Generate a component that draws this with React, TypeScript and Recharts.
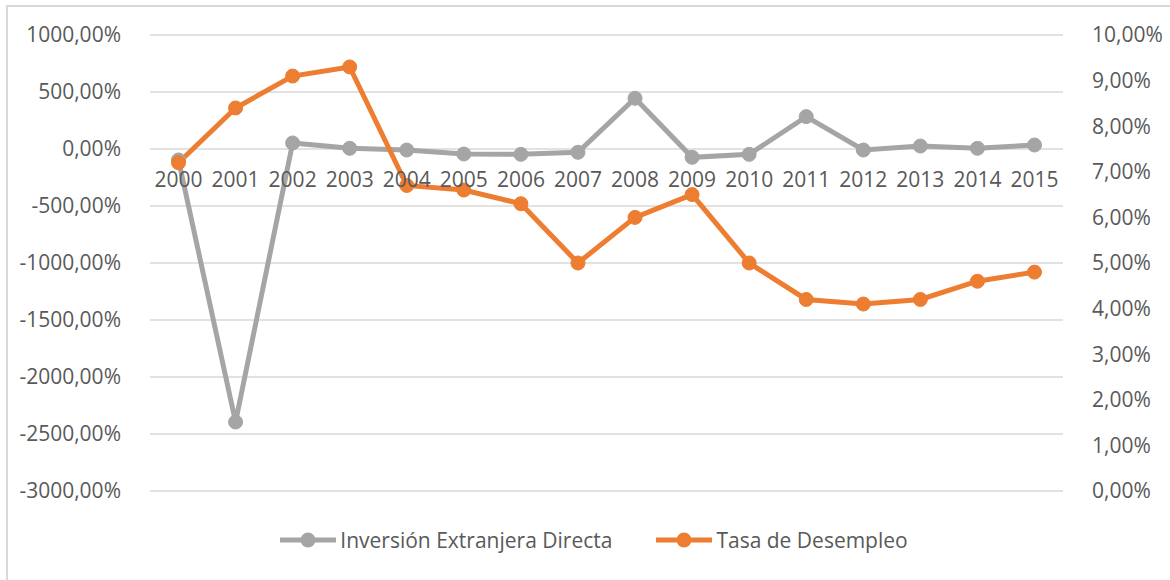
import React from "react";
import { LineChart, Line, XAxis, YAxis, CartesianGrid, Legend } from "recharts";

const years = ["2000", "2001", "2002", "2003", "2004", "2005", "2006", "2007", "2008", "2009", "2010", "2011", "2012", "2013", "2014", "2015"];
// Inversión Extranjera Directa (variación %, eje izquierdo)
const inversion = [-96, -2395, 53, 6, -9, -44, -47, -29, 445, -73, -47, 284, -9, 26, 6, 35];
// Tasa de Desempleo (%, eje derecho)
const desempleo = [7.2, 8.4, 9.1, 9.3, 6.7, 6.6, 6.3, 5.0, 6.0, 6.5, 5.0, 4.2, 4.1, 4.2, 4.6, 4.8];
const leftTicks = [-3000, -2500, -2000, -1500, -1000, -500, 0, 500, 1000];
const rightTicks = [0, 1, 2, 3, 4, 5, 6, 7, 8, 9, 10];

const GRAY = "#A5A5A5";
const ORANGE = "#ED7D31";
const TEXT = "#595959";
const FONT = "'Open Sans', sans-serif";
const FS = 21;

const data = years.map((y, i) => ({ year: y, inversion: inversion[i], desempleo: desempleo[i] }));

const pct = (v: number) => v.toFixed(2).replace(".", ",") + "%";

// etiquetas del eje X dibujadas justo debajo de la línea del 0
const YearTick = (props: any) => {
    const { x, y, payload } = props;
    return (
        <text x={x} y={y} dy={-304} textAnchor="middle" fill={TEXT} fontSize={FS} fontFamily={FONT}>
            {payload.value}
        </text>
    );
};

const legendItems = [
    { name: "Inversión Extranjera Directa", color: GRAY },
    { name: "Tasa de Desempleo", color: ORANGE },
];

const renderLegend = () => (
    <div style={{ display: "flex", justifyContent: "center", gap: 44, fontFamily: FONT, fontSize: FS, color: TEXT, paddingLeft: 18, lineHeight: "30px" }}>
        {legendItems.map((it) => (
            <div key={it.name} style={{ display: "flex", alignItems: "center" }}>
                <svg width={56} height={18}>
                    <line x1={0} x2={56} y1={9} y2={9} stroke={it.color} strokeWidth={5} />
                    <circle cx={28} cy={9} r={7.5} fill={it.color} />
                </svg>
                <span style={{ marginLeft: 4 }}>{it.name}</span>
            </div>
        ))}
    </div>
);

export default function App() {
    return (
        <div style={{ position: "absolute", left: 0, top: 0, width: 1170, height: 580, overflow: "hidden", background: "#fff" }}>
            <div style={{ position: "absolute", left: 6, top: 5, width: 1200, height: 620, border: "2px solid #D9D9D9" }} />
            <LineChart width={1170} height={580} data={data} margin={{ top: 35, right: 0, left: 0, bottom: 58 }}>
                <CartesianGrid yAxisId="left" vertical={false} stroke="#D9D9D9" strokeWidth={1.5} />
                <XAxis
                    dataKey="year"
                    height={1}
                    padding={{ left: 28.5, right: 28.5 }}
                    axisLine={false}
                    tickLine={false}
                    tickSize={0}
                    tickMargin={0}
                    tick={(p: any) => <YearTick {...p} />}
                    interval={0}
                />
                <YAxis
                    yAxisId="left"
                    width={150}
                    domain={[-3000, 1000]}
                    ticks={leftTicks}
                    tickFormatter={pct}
                    axisLine={false}
                    tickLine={false}
                    tickMargin={23}
                    tick={{ fill: TEXT, fontSize: FS, fontFamily: FONT }}
                />
                <YAxis
                    yAxisId="right"
                    orientation="right"
                    width={107}
                    domain={[0, 10]}
                    ticks={rightTicks}
                    tickFormatter={pct}
                    axisLine={false}
                    tickLine={false}
                    tickMargin={23}
                    tick={{ fill: TEXT, fontSize: FS, fontFamily: FONT, textAnchor: "start" }}
                />
                <Legend content={renderLegend} verticalAlign="bottom" wrapperStyle={{ left: 0, width: 1170, top: 525, height: 30 }} />
                <Line
                    yAxisId="left"
                    dataKey="inversion"
                    name="Inversión Extranjera Directa"
                    stroke={GRAY}
                    strokeWidth={5}
                    dot={{ r: 7, fill: GRAY, stroke: GRAY, strokeWidth: 1 }}
                    activeDot={false}
                    isAnimationActive={false}
                />
                <Line
                    yAxisId="right"
                    dataKey="desempleo"
                    name="Tasa de Desempleo"
                    stroke={ORANGE}
                    strokeWidth={5}
                    dot={{ r: 7, fill: ORANGE, stroke: ORANGE, strokeWidth: 1 }}
                    activeDot={false}
                    isAnimationActive={false}
                />
            </LineChart>
        </div>
    );
}
